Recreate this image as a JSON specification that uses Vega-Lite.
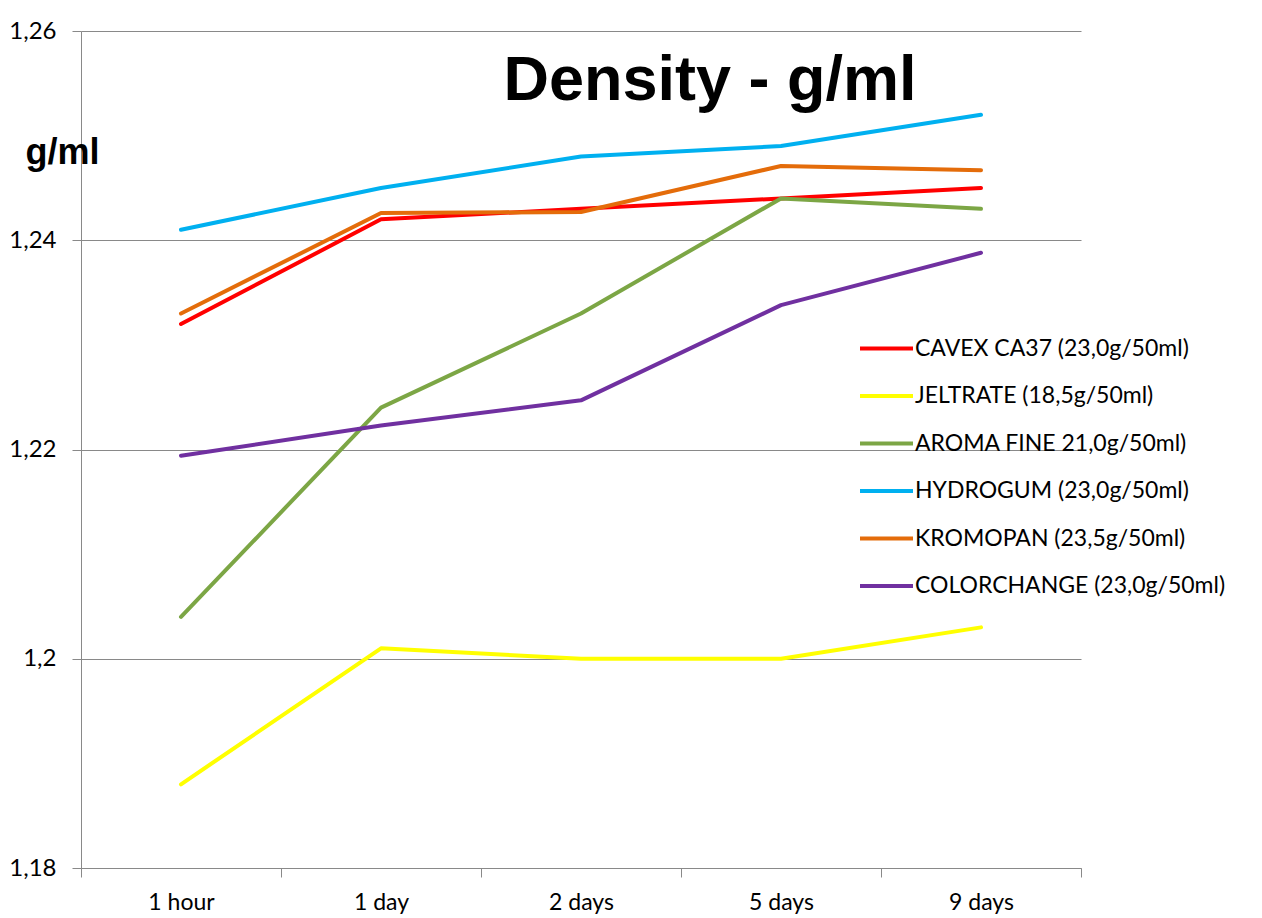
{
  "$schema": "https://vega.github.io/schema/vega-lite/v6.json",
  "width": 1000,
  "height": 837,
  "padding": {"left": 81, "top": 31, "right": 181, "bottom": 50},
  "autosize": {"type": "none"},
  "background": "white",
  "title": {
    "text": "Density - g/ml",
    "font": "Liberation Sans",
    "fontSize": 63,
    "fontWeight": "bold",
    "color": "black",
    "anchor": "middle",
    "orient": "top",
    "dx": 129,
    "dy": 98
  },
  "data": {
    "values": [
      {"series": "CAVEX CA37 (23,0g/50ml)", "time": "1 hour", "density": 1.232},
      {"series": "CAVEX CA37 (23,0g/50ml)", "time": "1 day", "density": 1.242},
      {"series": "CAVEX CA37 (23,0g/50ml)", "time": "2 days", "density": 1.243},
      {"series": "CAVEX CA37 (23,0g/50ml)", "time": "5 days", "density": 1.244},
      {"series": "CAVEX CA37 (23,0g/50ml)", "time": "9 days", "density": 1.245},
      {"series": "JELTRATE (18,5g/50ml)", "time": "1 hour", "density": 1.188},
      {"series": "JELTRATE (18,5g/50ml)", "time": "1 day", "density": 1.201},
      {"series": "JELTRATE (18,5g/50ml)", "time": "2 days", "density": 1.2},
      {"series": "JELTRATE (18,5g/50ml)", "time": "5 days", "density": 1.2},
      {"series": "JELTRATE (18,5g/50ml)", "time": "9 days", "density": 1.203},
      {"series": "AROMA FINE 21,0g/50ml)", "time": "1 hour", "density": 1.204},
      {"series": "AROMA FINE 21,0g/50ml)", "time": "1 day", "density": 1.224},
      {"series": "AROMA FINE 21,0g/50ml)", "time": "2 days", "density": 1.233},
      {"series": "AROMA FINE 21,0g/50ml)", "time": "5 days", "density": 1.244},
      {"series": "AROMA FINE 21,0g/50ml)", "time": "9 days", "density": 1.243},
      {"series": "HYDROGUM (23,0g/50ml)", "time": "1 hour", "density": 1.241},
      {"series": "HYDROGUM (23,0g/50ml)", "time": "1 day", "density": 1.245},
      {"series": "HYDROGUM (23,0g/50ml)", "time": "2 days", "density": 1.248},
      {"series": "HYDROGUM (23,0g/50ml)", "time": "5 days", "density": 1.249},
      {"series": "HYDROGUM (23,0g/50ml)", "time": "9 days", "density": 1.252},
      {"series": "KROMOPAN (23,5g/50ml)", "time": "1 hour", "density": 1.233},
      {"series": "KROMOPAN (23,5g/50ml)", "time": "1 day", "density": 1.2426},
      {"series": "KROMOPAN (23,5g/50ml)", "time": "2 days", "density": 1.2427},
      {"series": "KROMOPAN (23,5g/50ml)", "time": "5 days", "density": 1.2471},
      {"series": "KROMOPAN (23,5g/50ml)", "time": "9 days", "density": 1.2467},
      {"series": "COLORCHANGE (23,0g/50ml)", "time": "1 hour", "density": 1.2194},
      {"series": "COLORCHANGE (23,0g/50ml)", "time": "1 day", "density": 1.2223},
      {"series": "COLORCHANGE (23,0g/50ml)", "time": "2 days", "density": 1.2247},
      {"series": "COLORCHANGE (23,0g/50ml)", "time": "5 days", "density": 1.2338},
      {"series": "COLORCHANGE (23,0g/50ml)", "time": "9 days", "density": 1.2388}
    ]
  },
  "mark": {"type": "line", "strokeWidth": 4, "strokeCap": "round", "strokeJoin": "round"},
  "encoding": {
    "x": {
      "field": "time",
      "type": "nominal",
      "sort": ["1 hour", "1 day", "2 days", "5 days", "9 days"],
      "scale": {"paddingInner": 0, "paddingOuter": 0},
      "axis": {
        "title": null,
        "labelAngle": 0,
        "tickBand": "extent",
        "grid": false,
        "domainColor": "#898989",
        "tickColor": "#898989",
        "tickSize": 9,
        "labelPadding": 14,
        "labelFont": "Lato",
        "labelFontSize": 23,
        "labelColor": "black"
      }
    },
    "y": {
      "field": "density",
      "type": "quantitative",
      "scale": {"domain": [1.18, 1.26], "nice": false, "zero": false},
      "axis": {
        "values": [1.18, 1.2, 1.22, 1.24, 1.26],
        "labelExpr": "replace(format(datum.value, '.2~f'), '.', ',')",
        "grid": true,
        "gridColor": "#898989",
        "gridOpacity": 1,
        "domainColor": "#898989",
        "tickColor": "#898989",
        "tickSize": 9,
        "labelPadding": 16,
        "labelFont": "Lato",
        "labelFontSize": 24,
        "labelColor": "black",
        "title": "g/ml",
        "titleAngle": 0,
        "titleFont": "Liberation Sans",
        "titleFontSize": 36,
        "titleFontWeight": "bold",
        "titleColor": "black",
        "titleAlign": "center",
        "titleBaseline": "middle",
        "titleX": -19,
        "titleY": 121
      }
    },
    "color": {
      "field": "series",
      "type": "nominal",
      "scale": {
        "domain": ["CAVEX CA37 (23,0g/50ml)", "JELTRATE (18,5g/50ml)", "AROMA FINE 21,0g/50ml)", "HYDROGUM (23,0g/50ml)", "KROMOPAN (23,5g/50ml)", "COLORCHANGE (23,0g/50ml)"],
        "range": ["#FF0000", "#FFFF00", "#7CA645", "#00B0F0", "#E46C0A", "#7030A0"]
      },
      "legend": {
        "title": null,
        "orient": "none",
        "legendX": 777,
        "legendY": 289,
        "symbolType": "stroke",
        "symbolSize": 2809,
        "symbolStrokeWidth": 4,
        "labelFont": "Lato",
        "labelFontSize": 23,
        "labelColor": "black",
        "labelOffset": 0,
        "labelLimit": 500,
        "rowPadding": 6.5,
        "padding": 0
      }
    }
  },
  "config": {
    "view": {"stroke": null}
  }
}
